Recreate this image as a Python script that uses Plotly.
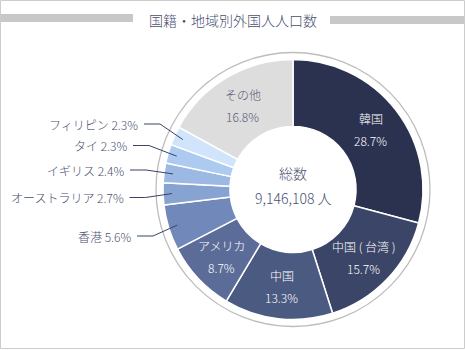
import math
import plotly.graph_objects as go

W, H = 465, 350

# ---- data ----
labels = ["韓国", "中国（台湾）", "中国", "アメリカ", "香港", "オーストラリア", "イギリス", "タイ", "フィリピン", "その他"]
label_text = ["韓国", "中国 ( 台湾 )", "中国", "アメリカ", "香港", "オーストラリア", "イギリス", "タイ", "フィリピン", "その他"]
values = [28.7, 15.7, 13.3, 8.7, 5.6, 2.7, 2.4, 2.3, 2.3, 16.8]
colors = ["#2b3250", "#3b4567", "#4b5a80", "#5c6c98", "#7189ba", "#87a3d1", "#9cb9e4", "#adcaf1", "#d0e4fc", "#dddddd"]
inside = [True, True, True, True, False, False, False, False, False, True]
title_text = "国籍・地域別外国人人口数"
total_label = "総数"
total_value = "9,146,108 人"

# ---- layout geometry (pixels) ----
CX, CY = 293, 189.5
R = 130
HOLE = 0.485
RING_R = 137
TEXT_COLOR = "#4a5070"
FONT = "Noto Sans CJK JP"
WEIGHT = 300

# outside label placement (text right edge x, y) in pixels
outside_pos = {
    "フィリピン": (139, 124),
    "タイ": (128, 145.5),
    "イギリス": (125, 170),
    "オーストラリア": (124.5, 197.5),
    "香港": (132, 236),
}


def px(x):
    return x / W


def py(y):
    return 1 - y / H


def fnt(size, color):
    return dict(size=size, color=color, family=FONT, weight=WEIGHT)


fig = go.Figure()
fig.add_trace(go.Pie(
    labels=labels,
    values=values,
    sort=False,
    direction="clockwise",
    rotation=0,
    hole=HOLE,
    marker=dict(colors=colors, line=dict(color="white", width=1.5)),
    textinfo="none",
    hoverinfo="label+percent",
    showlegend=False,
    domain=dict(x=[px(CX - R), px(CX + R)], y=[py(CY + R), py(CY - R)]),
))

annotations = []
shapes = []

total = sum(values)
cum = 0.0
for lab, txt, v, ins in zip(labels, label_text, values, inside):
    mid = (cum + v / 2) / total * 2 * math.pi
    cum += v
    pct = f"{v:.1f}%"
    if ins:
        r = 98
        ax = CX + r * math.sin(mid)
        ay = CY - r * math.cos(mid)
        col = "#555a72" if lab == "その他" else "white"
        annotations.append(dict(x=px(ax), y=py(ay - 11), xref="paper", yref="paper", text=txt,
                                showarrow=False, font=fnt(12, col),
                                xanchor="center", yanchor="middle"))
        annotations.append(dict(x=px(ax), y=py(ay + 11), xref="paper", yref="paper", text=pct,
                                showarrow=False, font=fnt(12, col),
                                xanchor="center", yanchor="middle"))
    else:
        tx, ty = outside_pos[txt]
        r = 121
        ax = CX + r * math.sin(mid)
        ay = CY - r * math.cos(mid)
        annotations.append(dict(x=px(tx), y=py(ty), xref="paper", yref="paper", text=f"{txt} {pct}",
                                showarrow=False, font=fnt(12, TEXT_COLOR),
                                xanchor="right", yanchor="middle", borderpad=0))
        x1 = tx + 5
        x2 = tx + 21
        shapes.append(dict(type="path", xref="paper", yref="paper",
                           path=f"M {px(x1)} {py(ty)} L {px(x2)} {py(ty)} L {px(ax)} {py(ay)}",
                           line=dict(color="#3a4466", width=1)))

# center text
annotations.append(dict(x=px(CX), y=py(173), xref="paper", yref="paper", text=total_label, showarrow=False,
                        font=fnt(14, TEXT_COLOR), xanchor="center", yanchor="middle"))
annotations.append(dict(x=px(CX), y=py(198), xref="paper", yref="paper", text=total_value, showarrow=False,
                        font=fnt(14, TEXT_COLOR), xanchor="center", yanchor="middle"))
# title
annotations.append(dict(x=px(233), y=py(19.5), xref="paper", yref="paper", text=title_text, showarrow=False,
                        font=fnt(14, TEXT_COLOR), xanchor="center", yanchor="middle"))

# title bars
shapes.append(dict(type="rect", xref="paper", yref="paper", x0=px(0), x1=px(133), y0=py(22), y1=py(14),
                   fillcolor="#c8c8c8", line=dict(width=0), layer="below"))
shapes.append(dict(type="rect", xref="paper", yref="paper", x0=px(330), x1=px(465), y0=py(24), y1=py(16),
                   fillcolor="#c8c8c8", line=dict(width=0), layer="below"))
# ring around the pie
shapes.append(dict(type="circle", xref="paper", yref="paper",
                   x0=px(CX - RING_R), x1=px(CX + RING_R), y0=py(CY + RING_R), y1=py(CY - RING_R),
                   line=dict(color="#bdbdbd", width=1.3), layer="below"))
# outer border
shapes.append(dict(type="rect", xref="paper", yref="paper", x0=px(0.5), x1=px(464.5), y0=py(348.5), y1=py(0.5),
                   line=dict(color="#cccccc", width=1), layer="below"))

fig.update_layout(
    width=W, height=H,
    margin=dict(l=0, r=0, t=0, b=0),
    paper_bgcolor="white",
    plot_bgcolor="white",
    annotations=annotations,
    shapes=shapes,
    font=dict(family=FONT),
)

fig.write_html("out.html")
